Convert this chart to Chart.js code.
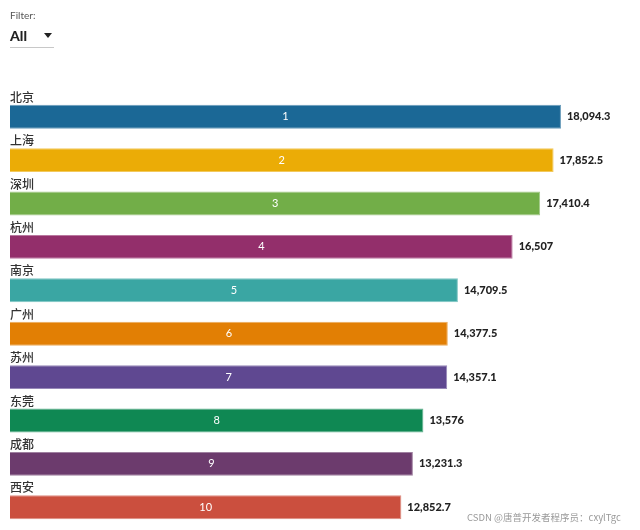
<!DOCTYPE html>
<html lang="zh">

<head>
  <meta charset="UTF-8" />
  <script src="https://cdn.jsdelivr.net/npm/chart.js"></script>
  <title>城市排名</title>
  <style>
    body { margin: 0; background: #fff; font-family: Lato, "Noto Sans CJK SC", sans-serif; }
    .wrap { position: relative; width: 640px; height: 530px; }
    .filtro { position: absolute; left: 10px; top: 9px; }
    .filtro .rotulo { font-size: 10px; color: #555; }
    .filtro .select { width: 44px; margin-top: 6px; padding-bottom: 3px; border-bottom: 1px solid #c8c8c8; font-size: 14px; font-weight: 900; color: #222; position: relative; }
    .filtro .seta { position: absolute; right: 2px; top: 6px; width: 0; height: 0; border-left: 4px solid transparent; border-right: 4px solid transparent; border-top: 5px solid #222; }
    .marca { position: absolute; left: 467px; top: 510px; font-size: 9.5px; color: #999; white-space: nowrap; font-family: "Noto Sans CJK SC", sans-serif; }
    canvas { position: absolute; left: 0; top: 0; }
  </style>
</head>

<body>
  <div class="wrap">
    <canvas id="graficoCidades" width="640" height="530"></canvas>
    <div class="filtro">
      <div class="rotulo">Filter:</div>
      <div class="select">All<span class="seta"></span></div>
    </div>
    <div class="marca">CSDN @唐普开发者程序员：cxylTgc</div>
  </div>

  <script>
    const cidades = ['北京', '上海', '深圳', '杭州', '南京', '广州', '苏州', '东莞', '成都', '西安'];
    const valores = [18094.3, 17852.5, 17410.4, 16507, 14709.5, 14377.5, 14357.1, 13576, 13231.3, 12852.7];
    const ranking = [1, 2, 3, 4, 5, 6, 7, 8, 9, 10];
    const cores = ['#1b6896', '#ebac06', '#72ae48', '#932f6b', '#3aa6a3', '#e27f04', '#5f4891', '#0f8853', '#6c3b6d', '#cb4f3e'];

    // borda um pouco mais clara que a cor da barra
    function clarear(hex, t) {
      let r = parseInt(hex.slice(1, 3), 16), g = parseInt(hex.slice(3, 5), 16), b = parseInt(hex.slice(5, 7), 16);
      r = Math.round(r + (255 - r) * t); g = Math.round(g + (255 - g) * t); b = Math.round(b + (255 - b) * t);
      return 'rgb(' + r + ',' + g + ',' + b + ')';
    }

    const rotulos = {
      id: 'rotulos',
      afterDatasetsDraw(chart) {
        const ctx = chart.ctx;
        const meta = chart.getDatasetMeta(0);
        ctx.save();
        meta.data.forEach((bar, i) => {
          const topo = bar.y - bar.height / 2;
          // nome da cidade acima da barra
          ctx.fillStyle = '#333';
          ctx.font = '500 12px "Noto Sans CJK SC", sans-serif';
          ctx.textAlign = 'left';
          ctx.textBaseline = 'alphabetic';
          ctx.fillText(cidades[i], chart.chartArea.left, topo - 3);
          // posição no meio da barra
          ctx.fillStyle = '#fff';
          ctx.font = '11px Lato, sans-serif';
          ctx.textAlign = 'center';
          ctx.textBaseline = 'middle';
          ctx.fillText(ranking[i], (bar.base + bar.x) / 2, bar.y);
          // valor no fim da barra
          ctx.fillStyle = '#222';
          ctx.font = '900 11px Lato, sans-serif';
          ctx.textAlign = 'left';
          ctx.fillText(valores[i].toLocaleString('en-US', { maximumFractionDigits: 1 }), bar.x + 6, bar.y);
        });
        ctx.restore();
      }
    };

    new Chart(document.getElementById('graficoCidades'), {
      type: 'bar',
      data: {
        labels: cidades,
        datasets: [{
          data: valores,
          backgroundColor: cores,
          borderColor: cores.map(c => clarear(c, 0.35)),
          borderWidth: 1,
          barPercentage: 0.55,
          categoryPercentage: 1
        }]
      },
      options: {
        indexAxis: 'y',
        responsive: false,
        animation: false,
        layout: { padding: { left: 10, right: 21, top: 95, bottom: 1 } },
        plugins: { legend: { display: false }, tooltip: { enabled: false } },
        scales: {
          x: { display: false, min: 0, max: 20000 },
          y: { display: false }
        }
      },
      plugins: [rotulos]
    });
  </script>
</body>

</html>
